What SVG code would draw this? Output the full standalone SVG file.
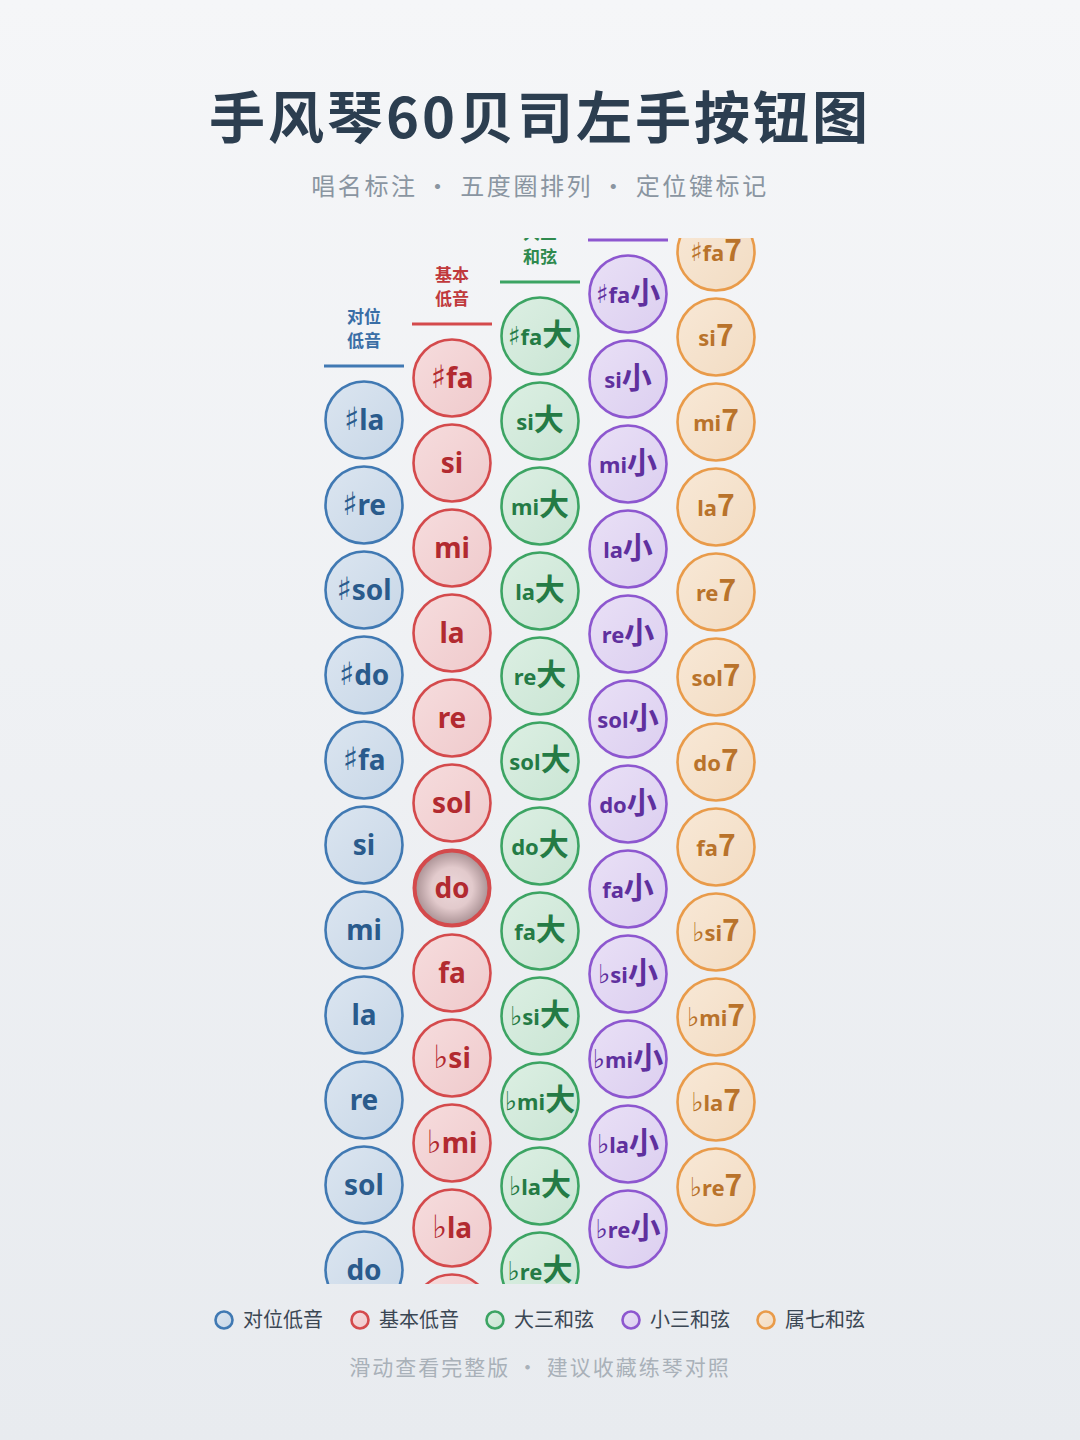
<svg xmlns="http://www.w3.org/2000/svg" width="1080" height="1440" viewBox="0 0 1080 1440">
<defs>
<linearGradient id="bg" x1="0" y1="0" x2="0" y2="1"><stop offset="0" stop-color="#f5f6f8"/><stop offset="1" stop-color="#e8ebef"/></linearGradient>
<linearGradient id="gB" x1="0" y1="0" x2="1" y2="1"><stop offset="0" stop-color="#dbe5f0"/><stop offset="1" stop-color="#c8d7e7"/></linearGradient>
<linearGradient id="gR" x1="0" y1="0" x2="1" y2="1"><stop offset="0" stop-color="#f6dcdd"/><stop offset="1" stop-color="#efcacc"/></linearGradient>
<linearGradient id="gG" x1="0" y1="0" x2="1" y2="1"><stop offset="0" stop-color="#dcefe3"/><stop offset="1" stop-color="#cae5d4"/></linearGradient>
<linearGradient id="gP" x1="0" y1="0" x2="1" y2="1"><stop offset="0" stop-color="#e9e0f6"/><stop offset="1" stop-color="#dccff0"/></linearGradient>
<linearGradient id="gO" x1="0" y1="0" x2="1" y2="1"><stop offset="0" stop-color="#f8e8d6"/><stop offset="1" stop-color="#f2dcc3"/></linearGradient>
<radialGradient id="gDo" cx="0.5" cy="0.5" r="0.5"><stop offset="0" stop-color="#ecd8da"/><stop offset="0.55" stop-color="#e2cacc"/><stop offset="1" stop-color="#a88f92"/></radialGradient>
<clipPath id="clip"><rect x="300" y="238" width="480" height="1046"/></clipPath>
</defs>
<style>
text{font-family:"Noto Sans","DejaVu Sans","Noto Sans CJK SC",sans-serif;}
.b circle{fill:url(#gB);stroke:#4079b3;stroke-width:2.6;}
.r circle{fill:url(#gR);stroke:#d44a4c;stroke-width:2.6;}
.g circle{fill:url(#gG);stroke:#3ca463;stroke-width:2.6;}
.p circle{fill:url(#gP);stroke:#8d57cf;stroke-width:2.6;}
.o circle{fill:url(#gO);stroke:#e99b4a;stroke-width:2.6;}
.b text{fill:#2a5b8c;}
.r text{fill:#b22a30;}
.g text{fill:#247b45;}
.p text{fill:#5f309e;}
.o text{fill:#b9732b;}
.n text{font-size:28px;font-weight:700;text-anchor:middle;}
.c text{font-size:22px;font-weight:700;text-anchor:middle;}
.n .acc{font-size:32px;font-weight:400;font-family:"DejaVu Sans",sans-serif;}
.c .acc{font-size:26px;font-weight:400;font-family:"DejaVu Sans",sans-serif;}
.big{font-size:30px;font-family:"Noto Sans CJK SC",sans-serif;font-weight:700;}
.hd{font-size:17px;font-weight:700;text-anchor:middle;font-family:"Noto Sans CJK SC",sans-serif;}
.leg{font-size:20px;fill:#3b4754;font-family:"Noto Sans CJK SC",sans-serif;}
</style>
<rect width="1080" height="1440" fill="url(#bg)"/>
<text x="540" y="138" text-anchor="middle" font-size="56" font-weight="700" fill="#2c3e50" letter-spacing="3" style="font-family:'Noto Sans CJK SC',sans-serif">手风琴60贝司左手按钮图</text>
<text x="540" y="195" text-anchor="middle" font-size="24" fill="#8a95a1" letter-spacing="2.6" style="font-family:'Noto Sans CJK SC',sans-serif">唱名标注 · 五度圈排列 · 定位键标记</text>

<g clip-path="url(#clip)">
<g id="headers">
<g id="h-col1"><text class="hd" x="364" y="323" fill="#3a6ea6">对位</text><text class="hd" x="364" y="347" fill="#3a6ea6">低音</text><line x1="324" y1="366" x2="404" y2="366" stroke="#4079b3" stroke-width="3"/></g>
<g id="h-col2"><text class="hd" x="452" y="281" fill="#c0393c">基本</text><text class="hd" x="452" y="305" fill="#c0393c">低音</text><line x1="412" y1="324" x2="492" y2="324" stroke="#d44a4c" stroke-width="3"/></g>
<g id="h-col3"><text class="hd" x="540" y="239" fill="#2f8a4e">大三</text><text class="hd" x="540" y="263" fill="#2f8a4e">和弦</text><line x1="500" y1="282" x2="580" y2="282" stroke="#3ca463" stroke-width="3"/></g>
<g id="h-col4"><line x1="588" y1="240" x2="668" y2="240" stroke="#8d57cf" stroke-width="3"/></g>
</g>

<g id="col1" class="b n">
<g id="c1-1"><circle cx="364" cy="420" r="38.5"/><text x="364" y="430"><tspan class="acc">♯</tspan>la</text></g>
<g id="c1-2"><circle cx="364" cy="505" r="38.5"/><text x="364" y="515"><tspan class="acc">♯</tspan>re</text></g>
<g id="c1-3"><circle cx="364" cy="590" r="38.5"/><text x="364" y="600"><tspan class="acc">♯</tspan>sol</text></g>
<g id="c1-4"><circle cx="364" cy="675" r="38.5"/><text x="364" y="685"><tspan class="acc">♯</tspan>do</text></g>
<g id="c1-5"><circle cx="364" cy="760" r="38.5"/><text x="364" y="770"><tspan class="acc">♯</tspan>fa</text></g>
<g id="c1-6"><circle cx="364" cy="845" r="38.5"/><text x="364" y="855">si</text></g>
<g id="c1-7"><circle cx="364" cy="930" r="38.5"/><text x="364" y="940">mi</text></g>
<g id="c1-8"><circle cx="364" cy="1015" r="38.5"/><text x="364" y="1025">la</text></g>
<g id="c1-9"><circle cx="364" cy="1100" r="38.5"/><text x="364" y="1110">re</text></g>
<g id="c1-10"><circle cx="364" cy="1185" r="38.5"/><text x="364" y="1195">sol</text></g>
<g id="c1-11"><circle cx="364" cy="1270" r="38.5"/><text x="364" y="1280">do</text></g>
</g>

<g id="col2" class="r n">
<g id="c2-1"><circle cx="452" cy="378" r="38.5"/><text x="452" y="388"><tspan class="acc">♯</tspan>fa</text></g>
<g id="c2-2"><circle cx="452" cy="463" r="38.5"/><text x="452" y="473">si</text></g>
<g id="c2-3"><circle cx="452" cy="548" r="38.5"/><text x="452" y="558">mi</text></g>
<g id="c2-4"><circle cx="452" cy="633" r="38.5"/><text x="452" y="643">la</text></g>
<g id="c2-5"><circle cx="452" cy="718" r="38.5"/><text x="452" y="728">re</text></g>
<g id="c2-6"><circle cx="452" cy="803" r="38.5"/><text x="452" y="813">sol</text></g>
<g id="c2-7"><circle cx="452" cy="888" r="37.5" style="fill:url(#gDo);stroke-width:4"/><text x="452" y="898">do</text></g>
<g id="c2-8"><circle cx="452" cy="973" r="38.5"/><text x="452" y="983">fa</text></g>
<g id="c2-9"><circle cx="452" cy="1058" r="38.5"/><text x="452" y="1068"><tspan class="acc">♭</tspan>si</text></g>
<g id="c2-10"><circle cx="452" cy="1143" r="38.5"/><text x="452" y="1153"><tspan class="acc">♭</tspan>mi</text></g>
<g id="c2-11"><circle cx="452" cy="1228" r="38.5"/><text x="452" y="1238"><tspan class="acc">♭</tspan>la</text></g>
<g id="c2-12"><circle cx="452" cy="1313" r="38.5"/></g>
</g>

<g id="col3" class="g c">
<g id="c3-1"><circle cx="540" cy="336" r="38.5"/><text x="540" y="345"><tspan class="acc">♯</tspan>fa<tspan class="big">大</tspan></text></g>
<g id="c3-2"><circle cx="540" cy="421" r="38.5"/><text x="540" y="430">si<tspan class="big">大</tspan></text></g>
<g id="c3-3"><circle cx="540" cy="506" r="38.5"/><text x="540" y="515">mi<tspan class="big">大</tspan></text></g>
<g id="c3-4"><circle cx="540" cy="591" r="38.5"/><text x="540" y="600">la<tspan class="big">大</tspan></text></g>
<g id="c3-5"><circle cx="540" cy="676" r="38.5"/><text x="540" y="685">re<tspan class="big">大</tspan></text></g>
<g id="c3-6"><circle cx="540" cy="761" r="38.5"/><text x="540" y="770">sol<tspan class="big">大</tspan></text></g>
<g id="c3-7"><circle cx="540" cy="846" r="38.5"/><text x="540" y="855">do<tspan class="big">大</tspan></text></g>
<g id="c3-8"><circle cx="540" cy="931" r="38.5"/><text x="540" y="940">fa<tspan class="big">大</tspan></text></g>
<g id="c3-9"><circle cx="540" cy="1016" r="38.5"/><text x="540" y="1025"><tspan class="acc">♭</tspan>si<tspan class="big">大</tspan></text></g>
<g id="c3-10"><circle cx="540" cy="1101" r="38.5"/><text x="540" y="1110"><tspan class="acc">♭</tspan>mi<tspan class="big">大</tspan></text></g>
<g id="c3-11"><circle cx="540" cy="1186" r="38.5"/><text x="540" y="1195"><tspan class="acc">♭</tspan>la<tspan class="big">大</tspan></text></g>
<g id="c3-12"><circle cx="540" cy="1271" r="38.5"/><text x="540" y="1280"><tspan class="acc">♭</tspan>re<tspan class="big">大</tspan></text></g>
</g>

<g id="col4" class="p c">
<g id="c4-1"><circle cx="628" cy="294" r="38.5"/><text x="628" y="303"><tspan class="acc">♯</tspan>fa<tspan class="big">小</tspan></text></g>
<g id="c4-2"><circle cx="628" cy="379" r="38.5"/><text x="628" y="388">si<tspan class="big">小</tspan></text></g>
<g id="c4-3"><circle cx="628" cy="464" r="38.5"/><text x="628" y="473">mi<tspan class="big">小</tspan></text></g>
<g id="c4-4"><circle cx="628" cy="549" r="38.5"/><text x="628" y="558">la<tspan class="big">小</tspan></text></g>
<g id="c4-5"><circle cx="628" cy="634" r="38.5"/><text x="628" y="643">re<tspan class="big">小</tspan></text></g>
<g id="c4-6"><circle cx="628" cy="719" r="38.5"/><text x="628" y="728">sol<tspan class="big">小</tspan></text></g>
<g id="c4-7"><circle cx="628" cy="804" r="38.5"/><text x="628" y="813">do<tspan class="big">小</tspan></text></g>
<g id="c4-8"><circle cx="628" cy="889" r="38.5"/><text x="628" y="898">fa<tspan class="big">小</tspan></text></g>
<g id="c4-9"><circle cx="628" cy="974" r="38.5"/><text x="628" y="983"><tspan class="acc">♭</tspan>si<tspan class="big">小</tspan></text></g>
<g id="c4-10"><circle cx="628" cy="1059" r="38.5"/><text x="628" y="1068"><tspan class="acc">♭</tspan>mi<tspan class="big">小</tspan></text></g>
<g id="c4-11"><circle cx="628" cy="1144" r="38.5"/><text x="628" y="1153"><tspan class="acc">♭</tspan>la<tspan class="big">小</tspan></text></g>
<g id="c4-12"><circle cx="628" cy="1229" r="38.5"/><text x="628" y="1238"><tspan class="acc">♭</tspan>re<tspan class="big">小</tspan></text></g>
</g>

<g id="col5" class="o c">
<g id="c5-1"><circle cx="716" cy="252" r="38.5"/><text x="716" y="261"><tspan class="acc">♯</tspan>fa<tspan class="big">7</tspan></text></g>
<g id="c5-2"><circle cx="716" cy="337" r="38.5"/><text x="716" y="346">si<tspan class="big">7</tspan></text></g>
<g id="c5-3"><circle cx="716" cy="422" r="38.5"/><text x="716" y="431">mi<tspan class="big">7</tspan></text></g>
<g id="c5-4"><circle cx="716" cy="507" r="38.5"/><text x="716" y="516">la<tspan class="big">7</tspan></text></g>
<g id="c5-5"><circle cx="716" cy="592" r="38.5"/><text x="716" y="601">re<tspan class="big">7</tspan></text></g>
<g id="c5-6"><circle cx="716" cy="677" r="38.5"/><text x="716" y="686">sol<tspan class="big">7</tspan></text></g>
<g id="c5-7"><circle cx="716" cy="762" r="38.5"/><text x="716" y="771">do<tspan class="big">7</tspan></text></g>
<g id="c5-8"><circle cx="716" cy="847" r="38.5"/><text x="716" y="856">fa<tspan class="big">7</tspan></text></g>
<g id="c5-9"><circle cx="716" cy="932" r="38.5"/><text x="716" y="941"><tspan class="acc">♭</tspan>si<tspan class="big">7</tspan></text></g>
<g id="c5-10"><circle cx="716" cy="1017" r="38.5"/><text x="716" y="1026"><tspan class="acc">♭</tspan>mi<tspan class="big">7</tspan></text></g>
<g id="c5-11"><circle cx="716" cy="1102" r="38.5"/><text x="716" y="1111"><tspan class="acc">♭</tspan>la<tspan class="big">7</tspan></text></g>
<g id="c5-12"><circle cx="716" cy="1187" r="38.5"/><text x="716" y="1196"><tspan class="acc">♭</tspan>re<tspan class="big">7</tspan></text></g>
</g>
</g>

<g id="connectors"/>

<g id="legend">
<g class="b"><circle cx="224" cy="1320" r="8.5"/></g><text class="leg" x="243" y="1327">对位低音</text>
<g class="r"><circle cx="360" cy="1320" r="8.5"/></g><text class="leg" x="379" y="1327">基本低音</text>
<g class="g"><circle cx="495" cy="1320" r="8.5"/></g><text class="leg" x="514" y="1327">大三和弦</text>
<g class="p"><circle cx="631" cy="1320" r="8.5"/></g><text class="leg" x="650" y="1327">小三和弦</text>
<g class="o"><circle cx="766" cy="1320" r="8.5"/></g><text class="leg" x="785" y="1327">属七和弦</text>
</g>
<text x="540" y="1375" text-anchor="middle" font-size="21" fill="#a9b1b9" letter-spacing="2" style="font-family:'Noto Sans CJK SC',sans-serif">滑动查看完整版 · 建议收藏练琴对照</text>
</svg>
